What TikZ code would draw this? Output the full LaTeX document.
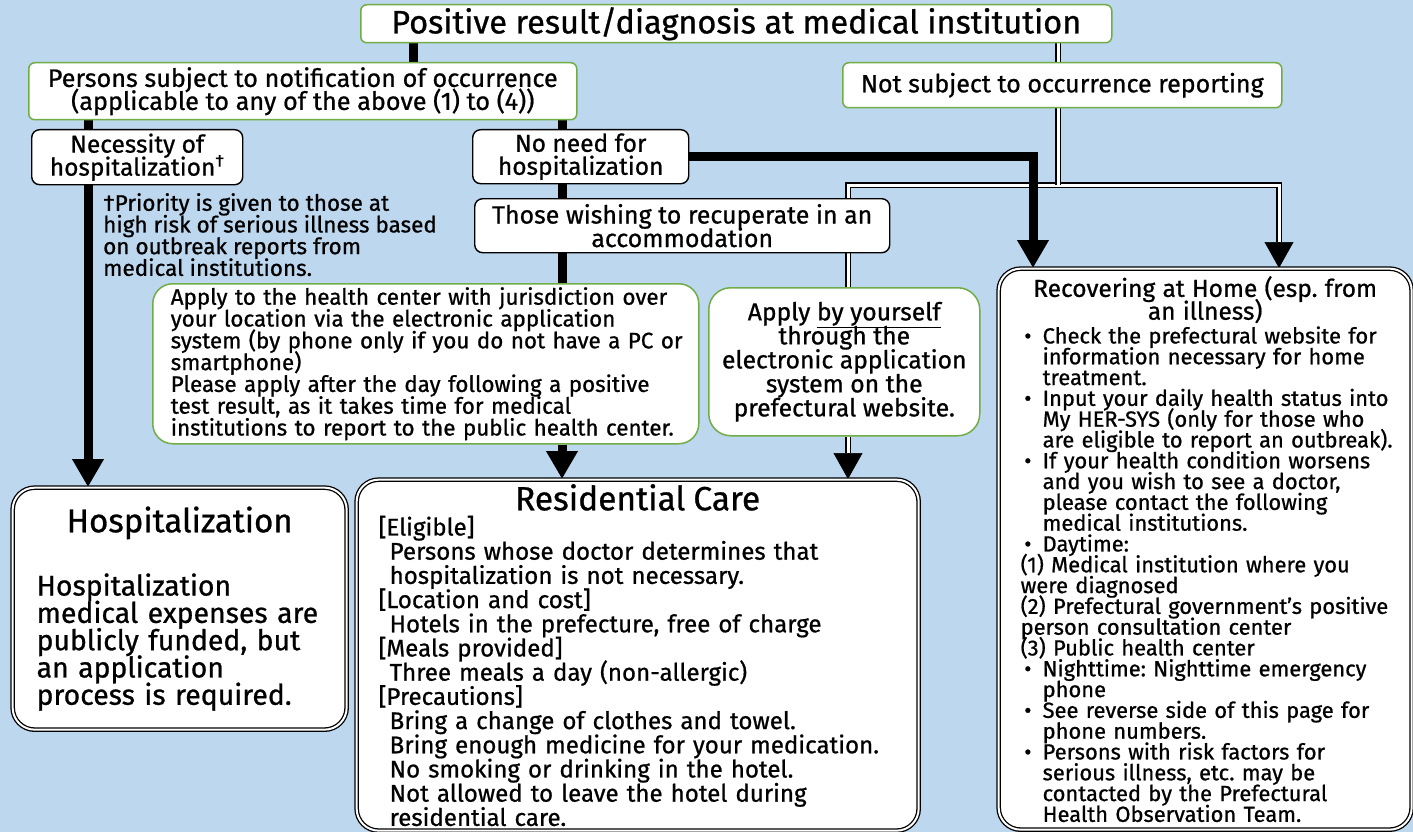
\documentclass[tikz,border=0pt]{standalone}
\usepackage{fontspec}
\setmainfont{Fira Sans}[FakeBold=0.8]
\usetikzlibrary{arrows.meta,backgrounds,calc}
\definecolor{bgblue}{RGB}{189,215,238}
\definecolor{boxgreen}{RGB}{112,173,71}
\setlength{\lineskiplimit}{-100pt}
\setlength{\normallineskiplimit}{-100pt}
\frenchspacing

\begin{document}
\begin{tikzpicture}[x=1pt,y=-1pt,
        gbox/.style={draw=boxgreen,line width=1.5pt,fill=white,rounded corners=6pt,inner sep=0pt,anchor=north west},
        kbox/.style={draw=black,line width=1.4pt,fill=white,rounded corners=8pt,inner sep=0pt,anchor=north west},
        dbox/.style={draw=black,double=white,double distance=2pt,line width=1.3pt,fill=white,rounded corners=22pt,inner sep=0pt,anchor=north west},
        ragged/.style={align=left,execute at begin node={\rightskip=0pt plus 1fil minus 60pt}},
        fat/.style={line width=9pt},
        fatarrow/.style={fat,-{Triangle[width=30pt,length=28pt]}},
        dbl/.style={draw=black,double=white,double distance=3pt,line width=1.8pt},
        dbltip/.style={line width=0.5pt,-{Triangle[width=29pt,length=26pt]}}]
        \useasboundingbox (0,0) rectangle (1413,832);
        \begin{scope}[on background layer]
            % light blue page
            \fill[bgblue] (0,0) rectangle (1413,832);
        \end{scope}

        % top row
        \node[gbox,minimum width=751pt,minimum height=38pt,font={\fontsize{32.5}{32}\selectfont}] (top) at (360,4)
            {Positive result/diagnosis at medical institution};
        \node[gbox,minimum width=548pt,minimum height=57pt,align=center,font={\fontsize{25.2}{23}\selectfont}] (pers) at (28,62)
            {Persons subject to notification of occurrence\\(applicable to any of the above (1) to (4))};
        \node[gbox,minimum width=439pt,minimum height=45pt,font={\fontsize{25}{24}\selectfont}] (notsub) at (842,62)
            {Not subject to occurrence reporting};

        % hospitalization or not
        \node[kbox,minimum width=211pt,minimum height=55pt,align=center,font={\fontsize{24.5}{23}\selectfont}] (nec) at (31,129)
            {Necessity of\\hospitalization\textsuperscript{†}};
        \node[kbox,minimum width=216pt,minimum height=54pt,align=center,font={\fontsize{24.5}{23}\selectfont}] (nope) at (472,129)
            {No need for\\hospitalization};
        \node[inner sep=0pt,anchor=north west,align=left,font={\fontsize{22.5}{21.7}\selectfont}] (note) at (103,193)
            {†Priority is given to those at\\high risk of serious illness based\\on outbreak reports from\\medical institutions.};
        \node[kbox,minimum width=415pt,minimum height=54pt,align=center,font={\fontsize{24.9}{23.5}\selectfont}] (those) at (474,198)
            {Those wishing to recuperate in an\\accommodation};

        % how to apply
        \node[gbox,ragged,rounded corners=20pt,minimum width=546pt,minimum height=160pt,text width=510pt,font={\fontsize{22.4}{21.8}\selectfont}] (applyhc) at (152,283)
            {Apply to the health center with jurisdiction over\\
            your location via the electronic application\\
            system (by phone only if you do not have a PC or\\
            smartphone)\\
            Please apply after the day following a positive\\
            test result, as it takes time for medical\\
            institutions to report to the public health center.};
        \node[gbox,rounded corners=22pt,minimum width=271pt,minimum height=148pt,align=center,font={\fontsize{24.7}{24}\selectfont}] (applyself) at (708,287)
            {Apply \underline{by yourself}\\through the\\electronic application\\system on the\\prefectural website.};

        % three outcomes
        \node[dbox,ragged,minimum width=334pt,minimum height=242pt,text width=286pt,font={\fontsize{28.4}{27.3}\selectfont}] (hosp) at (12,487)
            {\makebox[\linewidth]{\fontsize{33}{31}\selectfont Hospitalization}\\[36pt]
            Hospitalization\\
            medical expenses are\\
            publicly funded, but\\
            an application\\
            process is required.};
        \node[dbox,ragged,minimum width=562pt,minimum height=351pt,text width=518pt,font={\fontsize{24.1}{24.2}\selectfont}] (resid) at (356,479)
            {\makebox[\linewidth]{\fontsize{33.5}{32}\selectfont Residential Care}\\[1pt]
            {[Eligible]}\\
            \hspace*{11pt}Persons whose doctor determines that\\
            \hspace*{11pt}hospitalization is not necessary.\\
            {[Location and cost]}\\
            \hspace*{11pt}Hotels in the prefecture, free of charge\\
            {[Meals provided]}\\
            \hspace*{11pt}Three meals a day (non-allergic)\\
            {[Precautions]}\\
            \hspace*{11pt}Bring a change of clothes and towel.\\
            \hspace*{11pt}Bring enough medicine for your medication.\\
            \hspace*{11pt}No smoking or drinking in the hotel.\\
            \hspace*{11pt}Not allowed to leave the hotel during\\
            \hspace*{11pt}residential care.};
        \node[dbox,ragged,minimum width=413pt,minimum height=561pt,text width=369pt,font={\fontsize{21.9}{20.8}\selectfont}] (recov) at (998,268)
            {\makebox[\linewidth]{\fontsize{24.5}{22}\selectfont Recovering at Home (esp. from}\\[2pt]
            \makebox[\linewidth]{\fontsize{24.5}{22}\selectfont an illness)}\\[3pt]
            \makebox[22pt][l]{\,•}Check the prefectural website for\\
            \hspace*{22pt}information necessary for home\\
            \hspace*{22pt}treatment.\\
            \makebox[22pt][l]{\,•}Input your daily health status into\\
            \hspace*{22pt}My HER-SYS (only for those who\\
            \hspace*{22pt}are eligible to report an outbreak).\\
            \makebox[22pt][l]{\,•}If your health condition worsens\\
            \hspace*{22pt}and you wish to see a doctor,\\
            \hspace*{22pt}please contact the following\\
            \hspace*{22pt}medical institutions.\\
            \makebox[22pt][l]{\,•}Daytime:\\
            (1) Medical institution where you\\
            were diagnosed\\
            (2) Prefectural government’s positive\\
            person consultation center\\
            (3) Public health center\\
            \makebox[22pt][l]{\,•}Nighttime: Nighttime emergency\\
            \hspace*{22pt}phone\\
            \makebox[22pt][l]{\,•}See reverse side of this page for\\
            \hspace*{22pt}phone numbers.\\
            \makebox[22pt][l]{\,•}Persons with risk factors for\\
            \hspace*{22pt}serious illness, etc. may be\\
            \hspace*{22pt}contacted by the Prefectural\\
            \hspace*{22pt}Health Observation Team.};

        % columns and rows the connectors run along
        \coordinate (cA) at (413,0);
        \coordinate (cB) at (88,0);
        \coordinate (cC) at (562,0);
        \coordinate (cD) at (1033,0);
        \coordinate (cE) at (1058,0);
        \coordinate (cF) at (848,0);
        \coordinate (cG) at (1279,0);
        \coordinate (row) at (0,185);

        \begin{scope}[on background layer]
            % double lines: not subject to reporting
            \draw[dbl] (top.south -| cE) -- (notsub.north -| cE);
            \draw[dbl,shorten >=26pt] (applyself.north -| cF) |- (row -| cG) -- (recov.north -| cG);
            \draw[dbl] (notsub.south -| cE) -- (cE |- row);
            \draw[dbl,shorten >=26pt] (applyself.south -| cF) -- (resid.north -| cF);
            \draw[dbltip] ($(recov.north -| cG)+(0,-26)$) -- (recov.north -| cG);
            \draw[dbltip] ($(resid.north -| cF)+(0,-26)$) -- (resid.north -| cF);

            % thick lines: subject to notification
            \draw[fat] (top.south -| cA) -- (pers.north -| cA);
            \draw[fat] (pers.south -| cB) -- (nec.north -| cB);
            \draw[fatarrow] (nec.south -| cB) -- (hosp.north -| cB);
            \draw[fat] (pers.south -| cC) -- (nope.north -| cC);
            \draw[fat] (nope.south -| cC) -- (those.north -| cC);
            \draw[fat] (those.south -| cC) -- (applyhc.north -| cC);
            \draw[fatarrow] (applyhc.south -| cC) -- (resid.north -| cC);
            \draw[fatarrow] (nope.east) -| (recov.north -| cD);
        \end{scope}
    \end{tikzpicture}
\end{document}
